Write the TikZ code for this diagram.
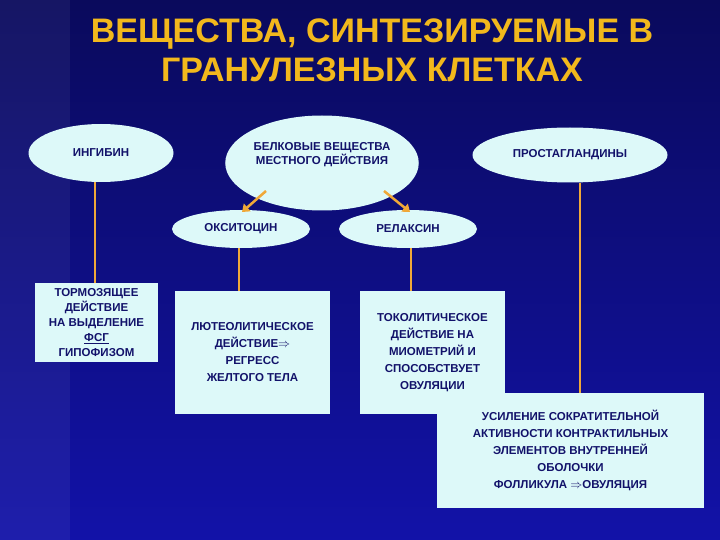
\documentclass[tikz,border=0pt]{standalone}
\usepackage{fontspec}
\setmainfont{Liberation Sans}
\usetikzlibrary{shapes.geometric,arrows.meta}
\definecolor{bgtop}{HTML}{0A0A5C}
\definecolor{bgbot}{HTML}{1212A8}
\definecolor{gold}{HTML}{F2B81C}
\definecolor{pale}{HTML}{DDF9F9}
\definecolor{ink}{HTML}{12126A}
\definecolor{wire}{HTML}{F0A838}
\tikzset{
 ell/.style={ellipse,fill=pale,text=ink,font=\bfseries\fontsize{11.5}{13.5}\selectfont,inner sep=0pt,align=center},
 box/.style={rectangle,fill=pale,text=ink,font=\bfseries\fontsize{11.5}{17}\selectfont,inner sep=0pt,align=center},
 wire/.style={draw=wire,line width=2pt},
 arr/.style={draw=wire,line width=2.5pt,-{Triangle[length=7pt,width=10pt]}}
}
\begin{document}
\begin{tikzpicture}[x=1pt,y=-1pt]
\useasboundingbox (0,0) rectangle (720,540);
\shade[top color=bgtop,bottom color=bgbot] (0,0) rectangle (720,540);
\fill[white,opacity=0.05] (0,0) rectangle (70,540);
\node[text=gold,font=\bfseries\fontsize{34}{39}\selectfont,align=center] (title) at (372,50) {ВЕЩЕСТВА, СИНТЕЗИРУЕМЫЕ В\\ГРАНУЛЕЗНЫХ КЛЕТКАХ};
\node[ell,minimum width=145,minimum height=58] (ing) at (101,153) {ИНГИБИН};
\node[ell,minimum width=180,minimum height=95] (bel) at (322,163) {БЕЛКОВЫЕ ВЕЩЕСТВА\\МЕСТНОГО ДЕЙСТВИЯ\\[6pt]};
\node[ell,minimum width=195,minimum height=55] (pro) at (570,155) {ПРОСТАГЛАНДИНЫ};
\node[ell,minimum width=138,minimum height=38] (oks) at (241,229) {ОКСИТОЦИН};
\node[ell,minimum width=138,minimum height=38] (rel) at (408,229) {РЕЛАКСИН};
\node[box,minimum width=123,minimum height=79] (tor) at (96.5,322.5) {ТОРМОЗЯЩЕЕ\\[-2pt]ДЕЙСТВИЕ\\[-2pt]НА ВЫДЕЛЕНИЕ\\[-2pt]\underline{ФСГ}\\[-2pt]ГИПОФИЗОМ};
\node[box,minimum width=155,minimum height=123] (lyu) at (252.5,352.5) {ЛЮТЕОЛИТИЧЕСКОЕ\\ДЕЙСТВИЕ$\Rightarrow$\\РЕГРЕСС\\ЖЕЛТОГО ТЕЛА};
\node[box,minimum width=145,minimum height=123] (tok) at (432.5,352.5) {ТОКОЛИТИЧЕСКОЕ\\ДЕЙСТВИЕ НА\\МИОМЕТРИЙ И\\СПОСОБСТВУЕТ\\ОВУЛЯЦИИ};
\node[box,minimum width=267,minimum height=115] (usi) at (570.5,450.5) {УСИЛЕНИЕ СОКРАТИТЕЛЬНОЙ\\АКТИВНОСТИ КОНТРАКТИЛЬНЫХ\\ЭЛЕМЕНТОВ ВНУТРЕННЕЙ\\ОБОЛОЧКИ\\ФОЛЛИКУЛА $\Rightarrow$ОВУЛЯЦИЯ};
\coordinate (b1) at (266,191);
\coordinate (b2) at (384,191);
\coordinate (o1) at (242,212);
\coordinate (r1) at (410,212);
\draw[wire] (95,182) -- (tor.north -| 95,0);
\draw[wire] (oks.south -| 239,0) -- (lyu.north -| 239,0);
\draw[wire] (rel.south -| 411,0) -- (tok.north -| 411,0);
\draw[wire] (pro.south -| 580,0) -- (usi.north -| 580,0);
\draw[arr] (b1) -- (o1);
\draw[arr] (b2) -- (r1);
\end{tikzpicture}
\end{document}
